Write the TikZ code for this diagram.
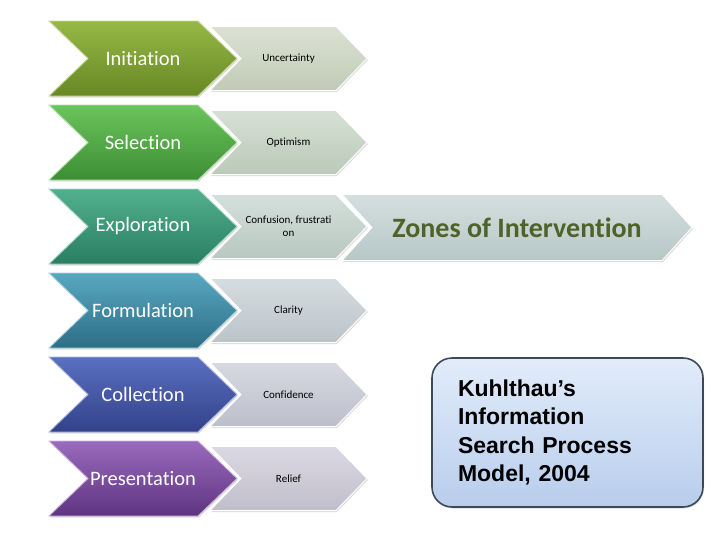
\documentclass[tikz,border=0pt]{standalone}
\usepackage{fontspec}
\setmainfont{Carlito}[Ligatures={TeX,NoCommon}]
\newfontfamily\boxfont{Liberation Sans}
\usetikzlibrary{positioning,shadows,backgrounds}
\definecolor{initA}{RGB}{150,184,70}
\definecolor{initB}{RGB}{104,136,36}
\definecolor{selA}{RGB}{108,196,92}
\definecolor{selB}{RGB}{60,142,51}
\definecolor{explA}{RGB}{82,176,142}
\definecolor{explB}{RGB}{42,126,98}
\definecolor{formA}{RGB}{88,168,192}
\definecolor{formB}{RGB}{45,110,134}
\definecolor{collA}{RGB}{90,112,192}
\definecolor{collB}{RGB}{51,65,138}
\definecolor{presA}{RGB}{154,106,190}
\definecolor{presB}{RGB}{94,52,128}
\definecolor{uncgray}{RGB}{204,213,192}
\definecolor{optgray}{RGB}{196,212,194}
\definecolor{confgray}{RGB}{194,210,203}
\definecolor{clargray}{RGB}{196,206,211}
\definecolor{confidgray}{RGB}{198,200,213}
\definecolor{relgray}{RGB}{203,200,214}
\definecolor{zonegray}{RGB}{193,210,209}
\definecolor{zonetext}{RGB}{79,98,40}
\definecolor{boxtop}{RGB}{226,236,250}
\definecolor{boxbot}{RGB}{184,205,236}
\definecolor{boxline}{RGB}{64,72,86}
% chevron outline round a node: opts, node, depth of point and notch
\newcommand\chevpath[3][]{%
  \path[#1] (#2.north west) -- ([xshift=-#3]#2.north east) -- (#2.east)
    -- ([xshift=-#3]#2.south east) -- (#2.south west) -- ([xshift=#3]#2.west) -- cycle;}
\tikzset{
  phase/.style={minimum width=188pt,minimum height=75pt,inner sep=0pt,outer sep=0pt,
    text=white,font=\fontsize{20.5}{24}\selectfont},
  feeling/.style={minimum width=157pt,minimum height=64pt,inner sep=0pt,outer sep=0pt,
    align=center,font=\fontsize{11}{12.5}\selectfont},
  zone/.style={minimum width=350pt,minimum height=66pt,inner sep=0pt,outer sep=0pt,
    text=zonetext,font=\bfseries\fontsize{28}{30}\selectfont},
  chevshade/.style 2 args={top color=#1,bottom color=#2,draw=#1!50!white,line width=0.9pt,
    drop shadow={shadow xshift=1pt,shadow yshift=-1.5pt,opacity=0.25}},
  grayshade/.style={chevshade={#1!70!white}{#1!95!black},draw=white},
  modelbox/.style={draw=boxline,line width=1.6pt,rounded corners=20pt,
    top color=boxtop,bottom color=boxbot,minimum height=149pt,text width=219pt,
    inner xsep=26pt,align=left,font=\boxfont\bfseries\fontsize{23}{28.3}\selectfont,
    drop shadow={shadow xshift=1pt,shadow yshift=-1.5pt,opacity=0.25}}
}
\begin{document}
\begin{tikzpicture}[x=1pt,y=-1pt]
  \useasboundingbox (0,0) rectangle (728,546);
  % stages
  \node[phase] (init) at (143,58.5) {Initiation};
  \node[phase,below=9pt of init] (sel) {Selection};
  \node[phase,below=9pt of sel] (expl) {Exploration};
  \node[phase,below=9pt of expl] (form) {Formulation};
  \node[phase,below=9pt of form] (coll) {Collection};
  \node[phase,below=9pt of coll] (pres) {Presentation};
  % feelings
  \node[feeling] (unc) at ([xshift=145.5pt]init.center) {Uncertainty};
  \node[feeling] (opt) at ([xshift=145.5pt]sel.center) {Optimism};
  \node[feeling] (conf) at ([xshift=145.5pt]expl.center) {Confusion, frustrati\\on};
  \node[feeling] (clar) at ([xshift=145.5pt]form.center) {Clarity};
  \node[feeling] (confid) at ([xshift=145.5pt]coll.center) {Confidence};
  \node[feeling] (rel) at ([xshift=145.5pt]pres.center) {Relief};
  % intervention and title
  \node[zone] (zones) at ([xshift=374pt,yshift=-1pt]expl.center) {Zones of Intervention};
  \node[modelbox] (model) at (567.5,432.5) {Kuhlthau’s\\Information\\Search Process\\Model, 2004};
  \begin{scope}[on background layer]
    \fill[white] (0,0) rectangle (728,546);
    \chevpath[chevshade={initA}{initB}]{init}{39pt}
    \chevpath[chevshade={selA}{selB}]{sel}{39pt}
    \chevpath[chevshade={explA}{explB}]{expl}{39pt}
    \chevpath[chevshade={formA}{formB}]{form}{39pt}
    \chevpath[chevshade={collA}{collB}]{coll}{39pt}
    \chevpath[chevshade={presA}{presB}]{pres}{39pt}
    \chevpath[grayshade=uncgray]{unc}{31pt}
    \chevpath[grayshade=optgray]{opt}{31pt}
    \chevpath[grayshade=confgray]{conf}{31pt}
    \chevpath[grayshade=clargray]{clar}{31pt}
    \chevpath[grayshade=confidgray]{confid}{31pt}
    \chevpath[grayshade=relgray]{rel}{31pt}
    \chevpath[grayshade=zonegray]{zones}{30pt}
  \end{scope}
\end{tikzpicture}
\end{document}
